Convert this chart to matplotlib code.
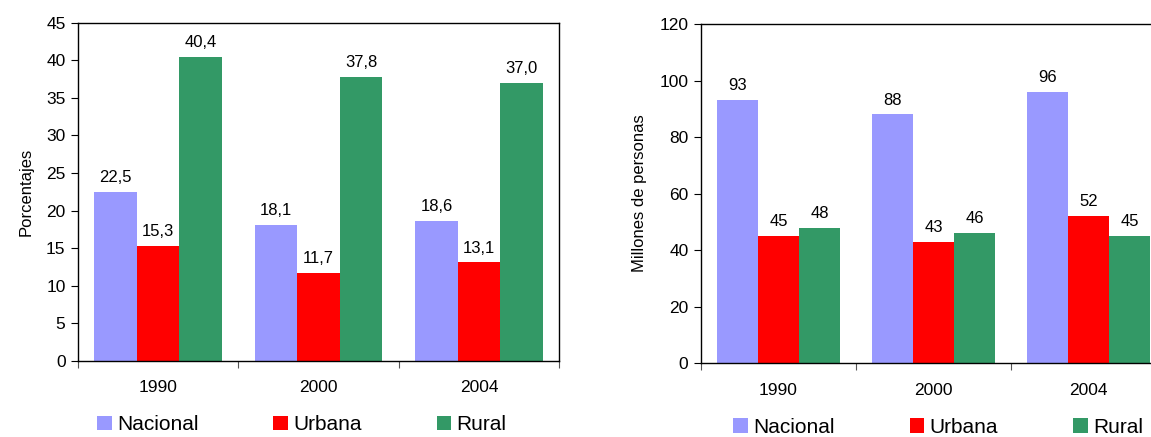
import matplotlib.pyplot as plt
from matplotlib.patches import Patch

plt.rcParams['font.family'] = ['Liberation Sans', 'DejaVu Sans']

anios = ['1990', '2000', '2004']
series = ['Nacional', 'Urbana', 'Rural']
colores = ['#9999FF', '#FF0000', '#339966']

# porcentajes
nacional_pct = [22.5, 18.1, 18.6]
urbana_pct = [15.3, 11.7, 13.1]
rural_pct = [40.4, 37.8, 37.0]

# millones de personas
nacional_mill = [93, 88, 96]
urbana_mill = [45, 43, 52]
rural_mill = [48, 46, 45]

fig = plt.figure(figsize=(11.51, 4.37), dpi=100)
ax1 = fig.add_axes([0.0678, 0.174, 0.418, 0.774])
ax2 = fig.add_axes([0.609, 0.169, 0.404, 0.776])

w = 0.265


def dibujar(ax, datos, ymax, paso, ylabel, fmt, legx):
    for j, vals in enumerate(datos):
        xs = [i + 0.5 + (j - 1) * w for i in range(len(anios))]
        barras = ax.bar(xs, vals, width=w, color=colores[j], linewidth=0)
        ax.bar_label(barras, labels=[fmt(v) for v in vals], padding=5, fontsize=12)
    ax.set_xlim(0, 3)
    ax.set_ylim(0, ymax)
    ax.set_yticks(range(0, ymax + 1, paso))
    ax.set_xticks([0, 1, 2, 3])
    ax.set_xticklabels([])
    ax.set_xticks([0.5, 1.5, 2.5], minor=True)
    ax.set_xticklabels(anios, minor=True, fontsize=12.5)
    ax.tick_params(axis='x', which='minor', length=0, pad=14)
    ax.tick_params(axis='x', which='major', length=5, direction='out', color='#555555')
    ax.tick_params(axis='y', length=5, direction='out', labelsize=12.5, pad=4)
    ax.set_ylabel(ylabel, fontsize=12, labelpad=9)
    for s in ax.spines.values():
        s.set_linewidth(1.0)
    handles = [Patch(facecolor=c, edgecolor='none') for c in colores]
    ax.legend(handles, series, loc='upper center', bbox_to_anchor=(legx, -0.105),
              ncol=3, frameon=False, fontsize=15, handlelength=0.7, handleheight=0.7,
              handletextpad=0.25, columnspacing=3.6)


dibujar(ax1, [nacional_pct, urbana_pct, rural_pct], 45, 5, 'Porcentajes',
        lambda v: f'{v:.1f}'.replace('.', ','), 0.465)
dibujar(ax2, [nacional_mill, urbana_mill, rural_mill], 120, 20, 'Millones de personas',
        lambda v: f'{v:d}', 0.51)

fig.savefig('out.png', dpi=100)
